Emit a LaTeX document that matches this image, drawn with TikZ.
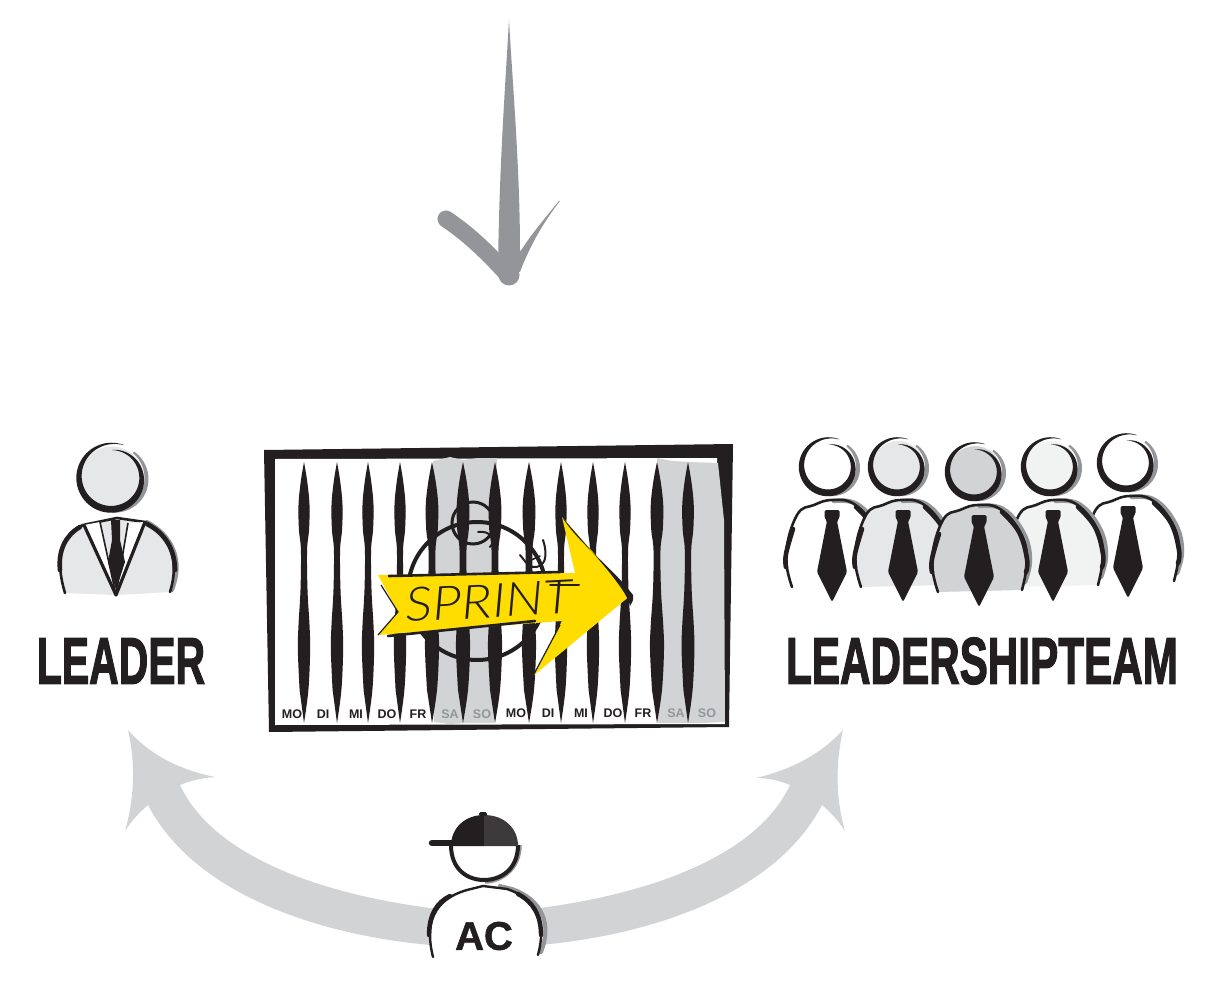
\documentclass[tikz,border=0pt]{standalone}
\usepackage{fontspec}
\setmainfont{Liberation Sans}
\newfontfamily\heavyfont[FakeBold=2.2]{Liberation Sans Bold}
\newfontfamily\acfont[FakeBold=1.2]{Liberation Sans Bold}
\newfontfamily\sprintfont{Lato Light Italic}
\begin{document}
\definecolor{ink}{HTML}{231F20}
\definecolor{midgray}{HTML}{939598}
\definecolor{softgray}{HTML}{D1D3D4}
\definecolor{palegray}{HTML}{E6E7E8}
\definecolor{paler}{HTML}{F1F2F2}
\definecolor{sprintyellow}{HTML}{FFDD00}
\newcommand{\headring}[4]{%
  \begin{scope}[shift={(#1,#2)}]
    \fill[#4] (0,0) circle[radius=#3-2];
    \fill[midgray] plot[domain=0:1,samples=40,variable=\u] ({-50+140*\u}:{#3+1+2.2*sin(180*\u)})
      -- plot[domain=1:0,samples=40,variable=\u] ({-50+140*\u}:{#3-1}) -- cycle;
    \fill[ink] plot[domain=0:1,samples=70,variable=\u] ({-70-380*\u}:{#3+1.5-7*\u+(.2+6.6*sin(180*\u))/2})
      -- plot[domain=1:0,samples=70,variable=\u] ({-70-380*\u}:{#3+1.5-7*\u-(.2+6.6*sin(180*\u))/2}) -- cycle;
  \end{scope}}
\newcommand{\teammember}[5]{% head x, head y, tie dx, fill, radius
  \begin{scope}[shift={(#1,#2)}]
    \fill[#4] plot[smooth,tension=.7] coordinates {(-37,120)(-43,87)(-32,48)(-15,38)(3,33)(25,37)(45,60)(52,87)(47,118)} -- cycle;
    \draw[midgray,line width=4.5,line cap=round] plot[smooth,tension=.7] coordinates {(5,34)(28,37)(48,60)(55,87)(50,110)};
    \draw[ink,line width=2.6,line cap=round,line join=round] plot[smooth,tension=.7] coordinates {(47,118)(52,87)(45,60)(25,37)(3,33)(-15,38)(-32,48)(-43,87)(-37,120)};
    \draw[ink,line width=4.6,line cap=round] plot[smooth,tension=.7] coordinates {(-43,100)(-43,87)(-36,62)};
    \draw[ink,line width=4.6,line cap=round] plot[smooth,tension=.7] coordinates {(51,100)(52,87)(44,60)(27,40)};
    \begin{scope}[shift={(#3,0)}]
      \fill[ink,rounded corners=1.5] (-7.5,43) -- (7.5,43) -- (7.5,51) -- (5,54) -- (15,105) -- (0,135) -- (-15,105) -- (-5,54) -- (-7.5,51) -- cycle;
    \end{scope}
  \end{scope}
  \headring{#1}{#2}{#5}{#4}}
\newcommand{\daybar}[2]{% x, width factor
  \fill[ink,shift={(#1,0)},xscale=#2] plot[smooth,tension=.6] coordinates {(0,462)(3,482)(5,505)(4.6,530)(2.8,550)(3.2,590)(5,625)(5.6,650)(4,690)(0,723)}
    -- plot[smooth,tension=.6] coordinates {(-4,690)(-5.6,650)(-5,625)(-3.2,590)(-2.8,550)(-4.6,530)(-5,505)(-3,482)(0,462)} -- cycle;}
\begin{tikzpicture}[x=1pt,y=-1pt,
  titletext/.style={font=\fontsize{66}{66}\selectfont\heavyfont,text=ink,inner sep=0pt},
  daytext/.style={font=\fontsize{12.5}{12.5}\selectfont\bfseries,text=ink,inner sep=0pt},
  endtext/.style={daytext,text=midgray}]
\useasboundingbox (0,0) rectangle (1219,987);
\fill[white] (0,0) rectangle (1219,987);

% top arrow
\draw[midgray,line width=17,line cap=round] (446,219) .. controls (470,235) and (490,255) .. (509,276);
\fill[midgray] (509,20) .. controls (505,90) and (499,170) .. (498,272)
  -- (520,272) .. controls (530,245) and (545,220) .. (560,201) -- (559,201) .. controls (545,218) and (530,236) .. (520,252)
  .. controls (520,170) and (513,90) .. (509,20) -- cycle;
\fill[midgray] (509,275) circle[radius=10.5];

% double arrow
\fill[softgray] (128,730) .. controls (150,755) and (180,770) .. (215,777) .. controls (203,778) and (192,780) .. (180,785)
  .. controls (215,860) and (330,895) .. (430,908) -- (540,908)
  .. controls (640,895) and (755,860) .. (790,785)
  .. controls (778,780) and (767,778) .. (756,778) .. controls (790,770) and (820,755) .. (843,730)
  .. controls (835,765) and (836,800) .. (845,831) .. controls (838,820) and (830,812) .. (822,805)
  .. controls (775,895) and (650,935) .. (540,945) -- (430,945)
  .. controls (320,935) and (195,895) .. (148,805)
  .. controls (140,812) and (132,820) .. (125,831) .. controls (134,800) and (136,765) .. (128,730) -- cycle;

% sprint board
\fill[ink] (264,450) -- (733,444) -- (729,727) -- (269,732) -- cycle;
\fill[white] (275,459) -- (717,458) -- (725,724) -- (275,725) -- cycle;
\fill[softgray] (433,461) -- (450,457) -- (463,460) -- (478,458) -- (497,458) -- (494,723) -- (470,723) -- (449,724) -- (434,722) -- cycle;
\fill[softgray] (657,458) -- (672,461) -- (690,462) -- (718,463) -- (724,520) -- (725,722) -- (700,723) -- (658,723) -- cycle;
\foreach \bx/\bf in {304/1.1,337/1.1,368/1.1,400/1.1,432/1.25,463/1.25,495/1.25,529/1.25,561/1.1,593/1.1,625/1.1,657/1.25,688/1.15}{\daybar{\bx}{\bf}}
% circle and marks
\draw[ink,line width=4] (477,591) circle[radius=69];
\draw[ink,line width=3] (473,523) circle[radius=21];
\draw[ink,line width=2,line cap=round] (478,532) .. controls (490,530) and (497,540) .. (490,547);
\draw[ink,line width=2,line cap=round] (543,540) .. controls (548,555) and (546,568) .. (533,567) .. controls (527,566) and (523,558) .. (520,555);
\draw[ink,line width=1.6,line cap=round] (527,562) -- (540,556);
% day labels
\node[daytext] (d1) at (292,714) {MO};
\node[daytext] (d2) at (323,714) {DI};
\node[daytext] (d3) at (356,714) {MI};
\node[daytext] (d4) at (387,714) {DO};
\node[daytext] (d5) at (418,714) {FR};
\node[endtext] (d6) at (450,714) {SA};
\node[endtext] (d7) at (482,714) {SO};
\node[daytext] (d8) at (516,713) {MO};
\node[daytext] (d9) at (548,713) {DI};
\node[daytext] (d10) at (581,713) {MI};
\node[daytext] (d11) at (613,713) {DO};
\node[daytext] (d12) at (643,713) {FR};
\node[endtext] (d13) at (676,713) {SA};
\node[endtext] (d14) at (707,713) {SO};
% sprint arrow
\fill[sprintyellow] (378,575) -- (575,573) -- (562,517) -- (631,595) -- (533,676) -- (562,621) -- (378,635) -- (398,612) -- cycle;
\draw[ink,line width=2.6,line cap=round] (389,576) -- (560,572);
\draw[ink,line width=2.6,line cap=round] (388,636) -- (535,621);
\fill[ink] (562,517) .. controls (580,545) and (610,565) .. (633,595) .. controls (634,600) and (632,603) .. (630,606) .. controls (628,590) and (590,550) .. (562,517) -- cycle;
\draw[ink,line width=1.2] (533,676) -- (560,625);
\draw[ink,line width=1.2] (378,635) -- (398,612) -- (381,585);
\node[font=\fontsize{47}{47}\selectfont\sprintfont,text=ink,inner sep=0pt,rotate=3,xscale=1.15] (sprint) at (489,601) {SPRINT};
\draw[ink,line width=2,line cap=round] (550,585) -- (579,585);

% leader
\fill[palegray] (65,593) .. controls (55,560) and (60,535) .. (83,525) -- (117,518) -- (145,522) .. controls (170,535) and (182,560) .. (170,592) -- (116,595) -- cycle;
\draw[midgray,line width=4,line cap=round] (147,522) .. controls (172,535) and (184,560) .. (172,590);
\draw[ink,line width=2.6,line cap=round] (65,593) .. controls (55,560) and (60,535) .. (83,525) -- (117,518) -- (145,522) .. controls (170,535) and (180,560) .. (170,592);
\draw[ink,line width=4.6,line cap=round] (60,570) .. controls (58,550) and (66,535) .. (80,527);
\draw[ink,line width=4.6,line cap=round] (175,570) .. controls (175,550) and (165,533) .. (147,524);
\fill[white] (84,525) -- (100,522) -- (116,595) -- cycle;
\fill[white] (145,522) -- (128,523) -- (116,595) -- cycle;
\draw[ink,line width=3.2,line join=round] (84,525) -- (116,595) -- (145,522);
\draw[ink,line width=1.6,line join=round] (100,522) -- (116,595) -- (128,523);
\fill[ink] (111,520) -- (120,520) -- (120,540) -- (125,562) -- (116,590) -- (108,562) -- (112,540) -- cycle;
\headring{112}{478}{33.5}{palegray}
\node[titletext,xscale=.62] (leader) at (121,661) {LEADER};

% team
\teammember{829}{467}{3}{white}{28}
\teammember{898}{467}{5}{palegray}{28}
\teammember{1127}{463}{1}{white}{28}
\teammember{1051}{467}{2}{paler}{28}
\teammember{975}{472}{4}{softgray}{28}
\node[titletext,xscale=.64] (team) at (982,661) {LEADERSHIPTEAM};

% AC
\fill[white] (433,957) .. controls (425,925) and (432,900) .. (467,890) -- (483,886) -- (507,889) .. controls (540,900) and (550,925) .. (538,957) -- cycle;
\draw[midgray,line width=4,line cap=round] (500,886) -- (512,889) .. controls (543,900) and (552,925) .. (541,952);
\draw[ink,line width=2.4,line cap=round] (433,957) .. controls (425,925) and (432,900) .. (467,890) -- (483,886) -- (507,889) .. controls (540,900) and (546,925) .. (538,955);
\draw[ink,line width=4.4,line cap=round] (429,935) .. controls (429,915) and (437,902) .. (450,896);
\draw[ink,line width=4.4,line cap=round] (541,935) .. controls (541,915) and (533,902) .. (518,894);
\node[font=\fontsize{40}{40}\selectfont\acfont,text=ink,inner sep=0pt] (ac) at (484,936) {AC};
\draw[midgray,line width=3.5] (520,845) .. controls (520,870) and (500,882) .. (485,882);
\fill[white] (451,845) .. controls (451,870) and (468,880) .. (484,880) .. controls (500,880) and (518,870) .. (518,845) -- cycle;
\draw[ink,line width=4] (451,845) .. controls (451,870) and (468,880) .. (484,880) .. controls (500,880) and (518,870) .. (518,845);
\draw[ink,line width=6.5,line cap=round] (432,843) -- (455,843);
\fill[ink] (451,846) .. controls (451,828) and (465,815) .. (484,815) -- (484,846) -- cycle;
\fill[ink!88!white] (484,815) .. controls (504,815) and (518,828) .. (518,846) -- (484,846) -- cycle;
\fill[ink,rounded corners=1.5] (479,816) -- (479,812) -- (487,812) -- (487,816) -- cycle;
\end{tikzpicture}
\end{document}
